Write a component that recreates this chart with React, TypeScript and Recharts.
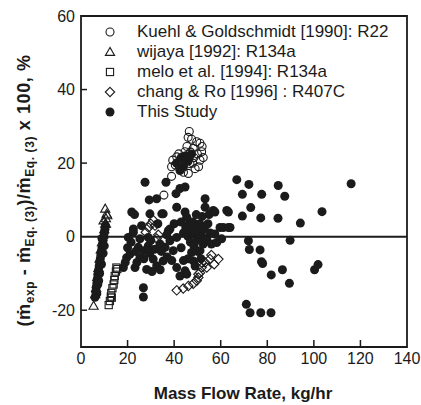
import React from 'react';
import { ScatterChart, Scatter, XAxis, YAxis, ReferenceLine, ReferenceArea, Legend } from 'recharts';

type P = [number, number];

// ---- data (x: mass flow rate kg/hr, y: deviation %) ----
const kuehl: P[] = [
  [46.5, 28.6], [49.7, 25.8], [51.1, 25.4], [51.8, 23.1], [48.2, 24], [44.7, 23.1], [41.1, 21.7],
  [39.4, 20.8], [38.9, 19], [42.5, 18.5], [46.1, 17.2], [38.9, 16.4], [35.6, 11.3], [51.1, 20.8],
  [46.8, 19.9], [47.5, 26.5], [48.5, 21.5], [50, 22.5], [52.5, 21.5], [50.5, 19], [43.5, 20],
  [45.5, 24.5], [47, 23], [40.5, 19.5], [44, 17.5], [49, 18.5], [46, 27], [52, 24.5], [42, 22.5], [48, 20],
];

const wijaya: P[] = [
  [5.4, -18.8], [6.1, -15.7], [6.5, -14], [7, -11], [7.5, -8.5], [8, -6], [8.5, -3.5], [9, -1.5],
  [9.5, 0.5], [10, 2], [10.4, 3.5], [9.7, 4.4], [10.7, 5], [11, 6.2], [10.4, 7.6], [11.3, 5.8], [10.7, 3.5],
];

const melo: P[] = [
  [11.9, -18.6], [12.4, -17.5], [12.8, -16.3], [13, -15.3], [13.5, -14], [14, -13], [14.3, -11.8],
  [14.5, -10.7], [15, -9.5], [15.2, -8.4], [13.2, -16.6], [15.6, -8.8],
];

const chang: P[] = [
  [41.1, -14.6], [43.9, -14.1], [46.1, -13.4], [48.2, -12.8], [49.7, -12], [50.4, -11.1], [50.4, -10.2],
  [51.1, -9.8], [51.8, -8.4], [53.3, -7], [54, -8.4], [55.4, -6.1], [57.2, -7.5], [59, -6.1], [51.8, -7],
  [56, -5], [29, 2.5], [30, 3.5], [31, 4.5], [31.8, 3], [32.5, -0.5], [33.2, 0.5], [27.8, 1.2],
];

const thisStudy: P[] = [
  // low flow column
  [6, -16.5], [6.3, -15], [6.5, -13.8], [6.8, -12.6], [7, -11.5], [7.2, -10.3], [7.5, -9.2], [7.8, -8],
  [8, -7], [8.3, -6], [8.5, -5], [8.8, -4], [9, -3], [9.3, -2], [9.5, -1], [9.8, 0], [10, 1], [10.3, 2],
  [10.5, 3], [7.2, -13], [8, -10], [8.8, -7.5], [9.5, -4.5], [6.8, -15.5], [10, -2.5], [9, -0.5], [7.6, -12],
  // mid band
  [18.2, -8.4], [19.6, -5.7], [21, -4.8], [20.3, -0.2], [22.5, 1.2], [22.5, 2.1], [21.8, 6.7], [23, 6],
  [23.2, -8.4], [24.6, -2.9], [25.3, -0.6], [25.3, -5.7], [26.8, -3.8], [26.8, -13.9], [26.8, -16.4],
  [27.5, 14.8], [28.2, -8.9], [28.9, -0.2], [28.9, -2.5], [29.3, 10], [29.6, 6.2], [31, -6.1], [31.8, -3.4],
  [32.5, 10.3], [32.5, -7.9], [33.9, -2], [34.7, 6.2], [35.3, -6.6], [35.3, 6.2], [36.1, -2.9], [36.5, 14.8],
  [37.5, 1.6], [38.2, 2.1], [38.2, -1.1], [39.6, -3.8], [40.8, 11.7], [41.1, 8], [41.1, -0.2], [41.1, -8.4],
  [42.5, 13.1], [42.5, -10.7], [44.7, 13.5], [44.7, 6.7], [44.7, -9.3], [45.4, 5.3], [45.4, -10.2],
  [47.5, -4.3], [48.2, -6.6], [20, -3], [24, -7], [30.5, -9.5], [34, -9], [37, -5.5], [26, 3], [33, 3.5],
  [19, -7], [21.5, -1.5], [23.5, -4], [27, -6], [29.5, -4.5], [30, -1], [34.5, -4], [36.8, 0.5],
  [39, -6.5], [40, 3.5], [43, 4],
  // dense cluster
  [44, 1], [45, 2.5], [46, 0], [46.5, 3.5], [47, -1.5], [47.5, 1.5], [48, 4], [48.5, -2.5], [49, 0.5],
  [49, 2.5], [49.5, 6], [50, -1], [50, -4], [50.5, 1.5], [51, 3.5], [51.1, -3.8], [51.5, -6], [52, 0],
  [52, 5.5], [52.5, -2], [53, 2], [53.3, 10.3], [53.3, 8], [53.5, -1], [54, -0.6], [54.5, 3.5], [55, 6],
  [55.5, 1], [56, -2], [56.8, 7.1], [57.5, 6.7], [57.5, 0.7], [58.3, -1.6], [59.7, 2.5], [60.4, -0.6],
  [61.1, 2.5], [62.6, 7.1], [63.3, 6.7], [64, 2.5], [63.3, 2.5], [43, -3], [46, -6], [49, -8], [44, -6.5],
  // among Kuehl cluster
  [41, 20], [43, 21.5], [44, 19], [45, 22], [42.5, 18], [46, 20.5], [47.5, 22.5], [44.5, 20.5], [46.5, 21.5],
  // high flow
  [66.9, 15.5], [72.1, 14.2], [69.3, 11.5], [77.6, 11.5], [72.9, 7.9], [69.3, 5.6], [77.2, 5.1],
  [84.7, 13.9], [87.5, 11], [84.6, 5], [94.2, 3.7], [103.5, 6.8], [116, 14.4], [89.8, -1], [71.9, -1.1],
  [72.3, -3.5], [76.9, -3.6], [78, -7.3], [77.5, -6.8], [81.7, -10.4], [86.5, -9], [89.5, -12.7],
  [100.3, -9], [101.8, -7.6], [71, -18.4], [72.6, -20.7], [77.2, -20.7], [81.6, -20.7],
];

const xTicks = [0, 20, 40, 60, 80, 100, 120, 140];
const yTicks = [-20, 0, 20, 40, 60];

const seriesDefs = [
  { name: 'Kuehl & Goldschmidt [1990]: R22', kind: 'circle', pts: kuehl },
  { name: 'wijaya [1992]: R134a', kind: 'triangle', pts: wijaya },
  { name: 'melo et al. [1994]: R134a', kind: 'square', pts: melo },
  { name: 'chang & Ro [1996] : R407C', kind: 'diamond', pts: chang },
  { name: 'This Study', kind: 'filled', pts: thisStudy },
];

const INK = '#1b1b1b';
const FONT = '"Liberation Sans", Arial, Helvetica, sans-serif';

function Marker({ kind, cx, cy }: { kind: string; cx: number; cy: number }) {
  if (cx == null || cy == null) return null;
  const sw = 1.1;
  switch (kind) {
    case 'circle':
      return <circle cx={cx} cy={cy} r={4} fill="none" stroke={INK} strokeWidth={sw} />;
    case 'triangle':
      return <polygon points={`${cx},${cy - 4.6} ${cx - 4.6},${cy + 3.4} ${cx + 4.6},${cy + 3.4}`} fill="none" stroke={INK} strokeWidth={sw} />;
    case 'square':
      return <rect x={cx - 3.6} y={cy - 3.6} width={7.2} height={7.2} fill="none" stroke={INK} strokeWidth={sw} />;
    case 'diamond':
      return <polygon points={`${cx},${cy - 4.7} ${cx + 4.7},${cy} ${cx},${cy + 4.7} ${cx - 4.7},${cy}`} fill="none" stroke={INK} strokeWidth={sw} />;
    default:
      return <circle cx={cx} cy={cy} r={4.5} fill={INK} />;
  }
}

const kindByName: Record<string, string> = {};
seriesDefs.forEach((s) => { kindByName[s.name] = s.kind; });
const orderByName: Record<string, number> = {};
seriesDefs.forEach((s, i) => { orderByName[s.name] = i; });

const renderLegend = (props: any) => {
  const payload = [...(props.payload || [])].sort(
    (a: any, b: any) => (orderByName[a.value] ?? 0) - (orderByName[b.value] ?? 0)
  );
  return (
    <div style={{ fontFamily: FONT, fontSize: 17, color: INK, lineHeight: '20px' }}>
      {payload.map((e: any) => (
        <div key={e.value} style={{ display: 'flex', alignItems: 'center', height: 20, whiteSpace: 'nowrap' }}>
          <svg width={14} height={14} style={{ display: 'block' }}>
            <Marker kind={kindByName[e.value]} cx={7} cy={7} />
          </svg>
          <span style={{ marginLeft: 20 }}>{e.value}</span>
        </div>
      ))}
    </div>
  );
};

const XTick = (props: any) => {
  const { x, y, payload } = props;
  const v = payload.value;
  return (
    <g>
      {v !== 0 && v !== 140 && <line x1={x} x2={x} y1={y} y2={y - 7} stroke={INK} strokeWidth={1.5} />}
      <text x={x} y={y + 17} textAnchor="middle" fontFamily={FONT} fontSize={16} fill={INK}>{v}</text>
    </g>
  );
};

const YTick = (props: any) => {
  const { x, y, payload } = props;
  const v = payload.value;
  return (
    <g>
      {v !== 60 && v !== 0 && <line x1={x} x2={x + 6} y1={y} y2={y} stroke={INK} strokeWidth={1.5} />}
      <text x={x - 6} y={y + 5.5} textAnchor="end" fontFamily={FONT} fontSize={16} fill={INK}>{v}</text>
    </g>
  );
};

const YLabel = (props: any) => {
  const vb = props.viewBox || { x: 0, y: 16, width: 81, height: 331 };
  const cy = vb.y + vb.height / 2 + 9;
  const sub = 12;
  return (
    <text transform={`translate(30,${cy}) rotate(-90)`} textAnchor="middle" fontFamily={FONT} fontWeight="bold" fontSize={18} letterSpacing={0.6} fill={INK}>
      (ṁ<tspan fontSize={sub} dy={3.5}>exp</tspan>
      <tspan dy={-3.5}>{' - ṁ'}</tspan>
      <tspan fontSize={sub} dy={3.5}>{'Eq. (3)'}</tspan>
      <tspan dy={-3.5}>{')/ṁ'}</tspan>
      <tspan fontSize={sub} dy={3.5}>{'Eq. (3)'}</tspan>
      <tspan dy={-3.5}>{' x 100, %'}</tspan>
    </text>
  );
};

const XLabel = (props: any) => {
  const vb = props.viewBox || { x: 81, y: 347, width: 326, height: 58 };
  return (
    <text x={vb.x + vb.width / 2 - 1} y={vb.y + 52} textAnchor="middle" fontFamily={FONT} fontWeight="bold" fontSize={17} fill={INK}>
      Mass Flow Rate, kg/hr
    </text>
  );
};

export default function App() {
  return (
    <div style={{ position: 'absolute', left: 0, top: 0, background: '#fff' }}>
      <ScatterChart width={421} height={405} margin={{ top: 16, right: 14, bottom: 0, left: 0 }}>
        <XAxis
          type="number"
          dataKey="x"
          domain={[0, 140]}
          ticks={xTicks}
          interval={0}
          axisLine={false}
          tickLine={false}
          tickSize={0}
          tickMargin={0}
          height={58}
          tick={<XTick />}
          label={{ content: <XLabel /> } as any}
        />
        <YAxis
          type="number"
          dataKey="y"
          domain={[-30, 60]}
          ticks={yTicks}
          interval={0}
          axisLine={false}
          tickLine={false}
          tickSize={0}
          tickMargin={0}
          width={81}
          tick={<YTick />}
          label={{ content: <YLabel /> } as any}
        />
        <ReferenceArea x1={0} x2={140} y1={-30} y2={60} fill="none" stroke={INK} strokeWidth={1.8} ifOverflow="visible" />
        <ReferenceLine y={0} stroke={INK} strokeWidth={2} />
        {[...seriesDefs].reverse().map((s) => (
          <Scatter
            key={s.name}
            name={s.name}
            data={s.pts.map(([x, y]) => ({ x, y }))}
            isAnimationActive={false}
            shape={(p: any) => <Marker kind={s.kind} cx={p.cx} cy={p.cy} />}
          />
        ))}
        <Legend
          layout="vertical"
          align="center"
          verticalAlign="middle"
          wrapperStyle={{ left: 103, top: 22, width: 'auto', height: 'auto' }}
          content={renderLegend}
        />
      </ScatterChart>
    </div>
  );
}
